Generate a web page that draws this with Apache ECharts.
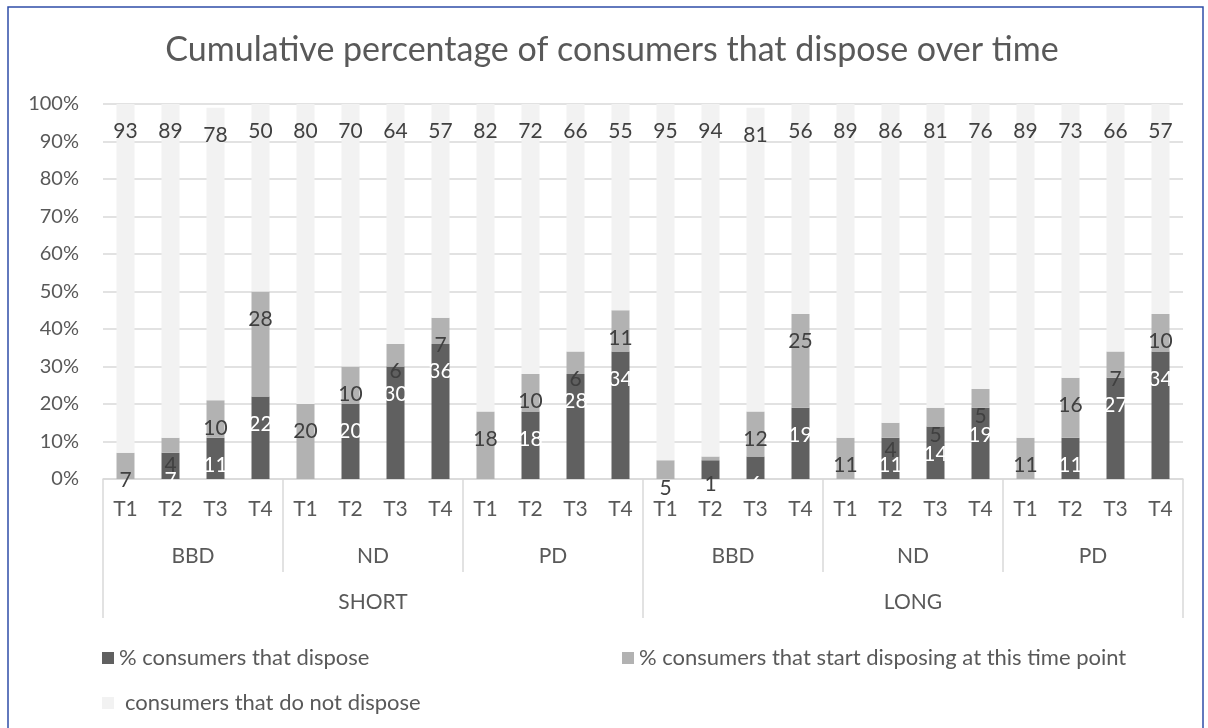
<!DOCTYPE html>
<html>
<head>
<meta charset="utf-8">
<script src="https://cdn.jsdelivr.net/npm/echarts@6/dist/echarts.min.js"></script>
<style>
  html, body { margin: 0; padding: 0; background: #ffffff; }
  #chart { width: 1208px; height: 728px; }
</style>
</head>
<body>
<div id="chart"></div>
<script>
const timeLabels = ['T1','T2','T3','T4','T1','T2','T3','T4','T1','T2','T3','T4',
                    'T1','T2','T3','T4','T1','T2','T3','T4','T1','T2','T3','T4'];
const groupLabels = ['BBD','ND','PD','BBD','ND','PD'];
const durationLabels = ['SHORT','LONG'];
const yTicks = [0,10,20,30,40,50,60,70,80,90,100];

const dispose        = [0,7,11,22, 0,20,30,36, 0,18,28,34, 0,5,6,19, 0,11,14,19, 0,11,27,34];
const startDisposing = [7,4,10,28, 20,10,6,7, 18,10,6,11, 5,1,12,25, 11,4,5,5, 11,16,7,10];
const notDispose     = [93,89,78,50, 80,70,64,57, 82,72,66,55, 95,94,81,56, 89,86,81,76, 89,73,66,57];

const seriesNames = ['% consumers that dispose',
                     '% consumers that start disposing at this time point',
                     'consumers that do not dispose'];

const FONT = 'Lato, "Open Sans", sans-serif';
const TEXT = '#595959';
const LINE = '#d9d9d9';

const chart = echarts.init(document.getElementById('chart'), null, { renderer: 'canvas' });

function barLabel(color) {
  return {
    show: true,
    position: 'insideTop',
    distance: 17,
    color: color,
    fontFamily: FONT,
    fontSize: 21,
    formatter: p => (p.value === 0 ? '' : String(p.value))
  };
}

const legendText = { fontFamily: FONT, fontSize: 22, color: TEXT };

const option = {
  backgroundColor: '#ffffff',
  animation: false,
  textStyle: { fontFamily: FONT },
  title: {
    text: 'Cumulative percentage of consumers that dispose over time',
    left: 612,
    textAlign: 'center',
    top: 33,
    padding: 0,
    textStyle: { fontFamily: FONT, fontSize: 34, fontWeight: 'normal', color: TEXT }
  },
  graphic: [{
    type: 'rect',
    shape: { x: 8, y: 7, width: 1195, height: 740 },
    style: { fill: 'none', stroke: '#2f4ea8', lineWidth: 1.5 },
    silent: true
  }],
  legend: [
    { data: [seriesNames[0]], left: 97, top: 642, itemWidth: 12, itemHeight: 12, icon: 'rect',
      textStyle: legendText },
    { data: [seriesNames[1]], left: 617, top: 642, itemWidth: 12, itemHeight: 12, icon: 'rect',
      textStyle: legendText },
    { data: [seriesNames[2]], left: 97, top: 687, itemWidth: 12, itemHeight: 12, icon: 'rect',
      textStyle: Object.assign({}, legendText, { padding: [0, 0, 0, 6] }) }
  ],
  grid: { left: 103, right: 25, top: 104, bottom: 249, containLabel: false },
  xAxis: [
    {
      type: 'category', data: timeLabels, position: 'bottom',
      axisLine: { show: true, lineStyle: { color: LINE, width: 1.5 } },
      axisTick: { show: false },
      axisLabel: { interval: 0, margin: 20, fontSize: 21, color: TEXT, fontFamily: FONT }
    },
    {
      type: 'category', data: groupLabels, position: 'bottom',
      axisLine: { show: false },
      axisTick: { show: true, interval: 0, length: 93, lineStyle: { color: LINE, width: 1.5 } },
      axisLabel: { interval: 0, margin: 67, fontSize: 21, color: TEXT, fontFamily: FONT }
    },
    {
      type: 'category', data: durationLabels, position: 'bottom',
      axisLine: { show: false },
      axisTick: { show: true, interval: 0, length: 139, lineStyle: { color: LINE, width: 1.5 } },
      axisLabel: { interval: 0, margin: 113, fontSize: 21, color: TEXT, fontFamily: FONT }
    }
  ],
  yAxis: {
    type: 'value', min: yTicks[0], max: yTicks[yTicks.length - 1], interval: 10,
    axisLine: { show: false },
    axisTick: { show: false },
    splitLine: { lineStyle: { color: LINE, width: 1.5 } },
    axisLabel: { margin: 24, fontSize: 20, color: TEXT, fontFamily: FONT, formatter: '{value}%' }
  },
  series: [
    { name: seriesNames[0], type: 'bar', stack: 'total', data: dispose, barWidth: 18,
      itemStyle: { color: '#606060' }, label: barLabel('#ffffff') },
    { name: seriesNames[1], type: 'bar', stack: 'total', data: startDisposing, barWidth: 18,
      itemStyle: { color: '#b2b2b2' }, label: barLabel('#404040') },
    { name: seriesNames[2], type: 'bar', stack: 'total', data: notDispose, barWidth: 18,
      itemStyle: { color: '#f2f2f2' }, label: barLabel('#404040') }
  ]
};

chart.setOption(option);
</script>
</body>
</html>
